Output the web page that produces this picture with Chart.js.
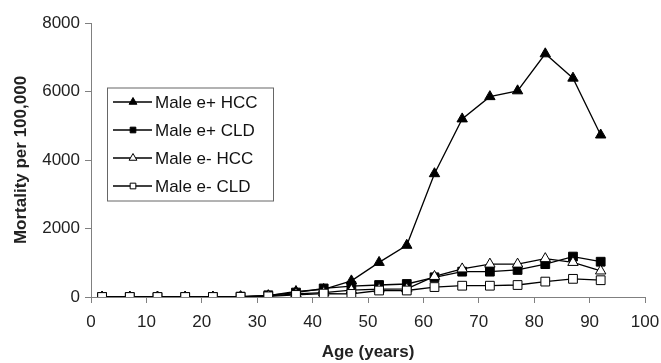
<!DOCTYPE html>
<html>
<head>
<meta charset="utf-8">
<script src="https://cdn.jsdelivr.net/npm/chart.js@4/dist/chart.umd.min.js"></script>
<style>
  html, body { margin: 0; padding: 0; background: #fff; }
  #wrap { width: 661px; height: 363px; position: relative; }
</style>
</head>
<body>
<div id="wrap"><canvas id="c" width="661" height="363"></canvas></div>
<script>
// age group midpoints (years)
const ages = [2, 7, 12, 17, 22, 27, 32, 37, 42, 47, 52, 57, 62, 67, 72, 77, 82, 87, 92];

// mortality per 100,000
const maleEposHCC = [0, 0, 0, 0, 0, 10, 40, 160, 220, 470, 1010, 1510, 3600, 5200, 5850, 6020, 7100, 6390, 4730];
const maleEposCLD = [0, 0, 0, 0, 0, 10, 50, 130, 250, 320, 350, 380, 575, 740, 740, 790, 960, 1180, 1030];
const maleEnegHCC = [0, 0, 0, 0, 0, 5, 30, 90, 130, 200, 230, 240, 600, 820, 960, 960, 1120, 1010, 760];
const maleEnegCLD = [0, 0, 0, 0, 0, 5, 20, 60, 100, 90, 190, 190, 290, 330, 330, 350, 450, 530, 490];

const seriesNames = ["Male e+ HCC", "Male e+ CLD", "Male e- HCC", "Male e- CLD"];
const xTicks = [0, 10, 20, 30, 40, 50, 60, 70, 80, 90, 100];
const yTicks = [0, 2000, 4000, 6000, 8000];

const FONT = "'Liberation Sans', Arial, Helvetica, sans-serif";
const AXIS = "#808080";

function pts(ys) {
  return ages.map((a, i) => ({ x: a, y: ys[i] }));
}

const styles = [
  { pointStyle: "triangle", fill: "#000", radius: 6 },
  { pointStyle: "rect", fill: "#000", radius: 6.2 },
  { pointStyle: "triangle", fill: "#fff", radius: 6 },
  { pointStyle: "rect", fill: "#fff", radius: 6.2 }
];

const allSeries = [maleEposHCC, maleEposCLD, maleEnegHCC, maleEnegCLD];

const datasets = allSeries.map((ys, i) => ({
  label: seriesNames[i],
  data: pts(ys),
  showLine: true,
  borderColor: "#000",
  borderWidth: 1.3,
  pointStyle: styles[i].pointStyle,
  pointRadius: styles[i].radius,
  pointHoverRadius: styles[i].radius,
  pointBackgroundColor: styles[i].fill,
  pointBorderColor: "#000",
  pointBorderWidth: 1,
  order: 4 - i
}));

// boxed legend in the upper-left, like the original figure
const boxLegend = {
  id: "boxLegend",
  afterDraw(chart) {
    const ctx = chart.ctx;
    const left = 107, top = 87.5, w = 166, h = 113;
    ctx.save();
    ctx.fillStyle = "#fff";
    ctx.fillRect(left, top, w, h);
    ctx.strokeStyle = "#666";
    ctx.lineWidth = 1;
    ctx.strokeRect(left + 0.5, top + 0.5, w, h);
    const rows = [102, 130, 158, 186];
    rows.forEach((y, i) => {
      ctx.strokeStyle = "#000";
      ctx.lineWidth = 1.3;
      ctx.beginPath();
      ctx.moveTo(113, y);
      ctx.lineTo(152, y);
      ctx.stroke();
      ctx.fillStyle = styles[i].fill;
      ctx.strokeStyle = "#000";
      ctx.lineWidth = 1;
      Chart.helpers.drawPoint(ctx, {
        pointStyle: styles[i].pointStyle,
        radius: i % 2 ? 4 : 4.5,
        rotation: 0,
        borderWidth: 1
      }, 133, y);
      ctx.fillStyle = "#111";
      ctx.font = "17px " + FONT;
      ctx.textBaseline = "middle";
      ctx.textAlign = "left";
      ctx.fillText(seriesNames[i], 155, y + 1);
    });
    ctx.restore();
  }
};

new Chart(document.getElementById("c"), {
  type: "scatter",
  data: { datasets },
  plugins: [boxLegend],
  options: {
    responsive: false,
    animation: false,
    layout: { padding: { top: 23, right: 16, bottom: 0, left: 0 } },
    plugins: {
      legend: { display: false },
      tooltip: { enabled: false }
    },
    scales: {
      x: {
        type: "linear",
        min: 0,
        max: 100,
        afterBuildTicks(scale) { scale.ticks = xTicks.map(v => ({ value: v })); },
        afterFit(scale) { scale.height = 66; scale.paddingRight = 0; scale.paddingLeft = 0; },
        border: { display: true, color: AXIS, width: 1 },
        grid: { drawOnChartArea: false, drawTicks: true, tickLength: 6, color: AXIS },
        ticks: { color: "#222", font: { family: FONT, size: 17 }, padding: 9, maxRotation: 0 },
        title: {
          display: true,
          text: "Age (years)",
          color: "#222",
          font: { family: FONT, size: 17, weight: "bold" },
          padding: { top: 5, bottom: 0 }
        }
      },
      y: {
        type: "linear",
        min: 0,
        max: 8000,
        afterBuildTicks(scale) { scale.ticks = yTicks.map(v => ({ value: v })); },
        afterFit(scale) { scale.width = 91; },
        border: { display: true, color: AXIS, width: 1 },
        grid: { drawOnChartArea: false, drawTicks: true, tickLength: 6, color: AXIS },
        ticks: {
          color: "#222",
          font: { family: FONT, size: 17 },
          padding: 5,
          callback: v => String(v)
        },
        title: {
          display: true,
          text: "Mortality per 100,000",
          color: "#222",
          font: { family: FONT, size: 17, weight: "bold" },
          padding: { top: 11, bottom: 0 }
        }
      }
    }
  }
});
</script>
</body>
</html>
